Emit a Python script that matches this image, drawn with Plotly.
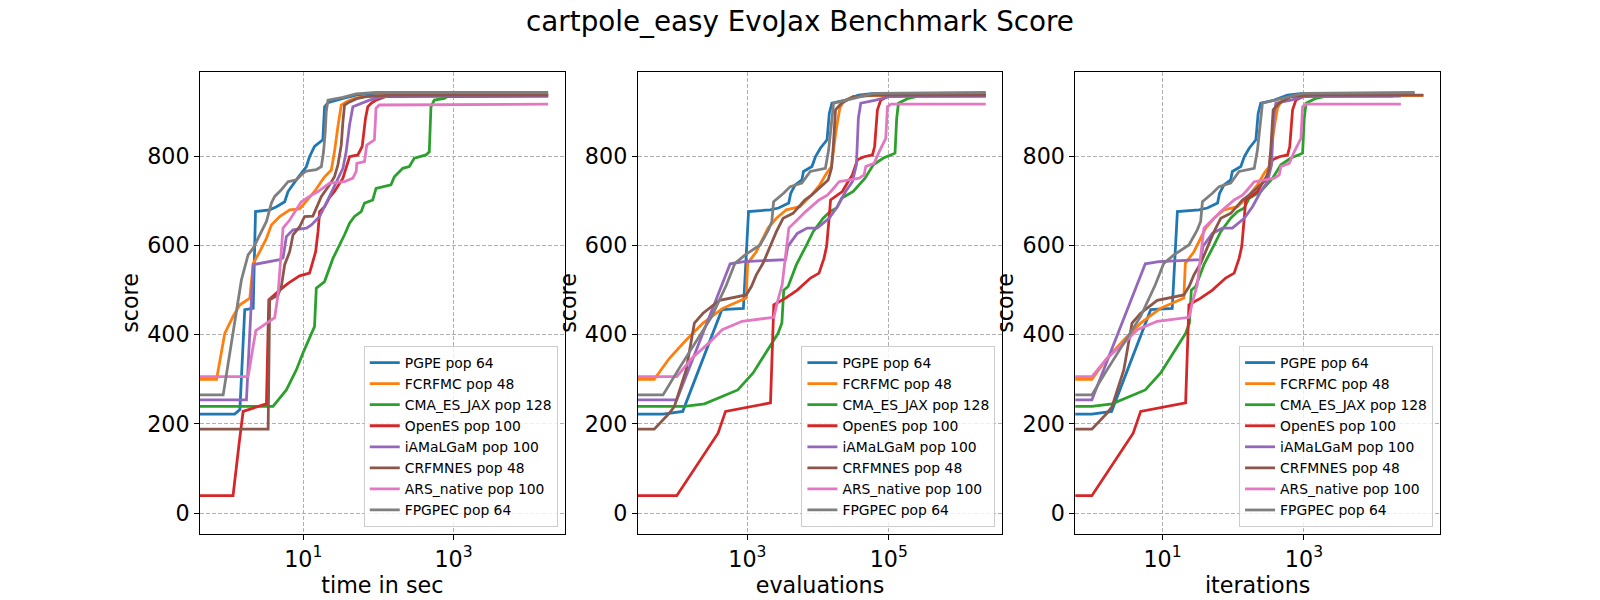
import math
import plotly.graph_objects as go

# ---------------- data ----------------
ALGOS = ["PGPE", "FCRFMC", "CMA_ES_JAX", "OpenES", "iAMaLGaM", "CRFMNES", "ARS_native", "FPGPEC"]
POPS = [64, 48, 128, 100, 100, 48, 100, 64]
COLORS = ["#1f77b4", "#ff7f0e", "#2ca02c", "#d62728", "#9467bd", "#8c564b", "#e377c2", "#7f7f7f"]

# score vs. iterations (evaluations = iterations * population size)
pgpe_iters = [0, 1, 1.9, 6.8, 13.7, 16.2, 32.7, 43, 60, 64, 74, 92, 97, 128, 143, 168, 209, 225, 245, 380, 585, 960, 36700]
pgpe_iter_scores = [222, 222, 228, 456, 459, 676, 680, 684, 695, 717, 736, 747, 766, 777, 799, 818, 837, 896, 919, 926, 937, 941, 941]
fcrfmc_iters = [0, 1, 1.64, 2.83, 4.9, 9.3, 20, 21, 27.8, 34.6, 40.7, 53.5, 74, 115, 143, 168, 220, 274, 322, 340, 367, 392, 423, 472, 655, 1190, 49000]
fcrfmc_iter_scores = [300, 300, 347, 388, 426, 459, 482, 560, 586, 616, 639, 661, 680, 687, 702, 713, 736, 762, 777, 810, 848, 878, 908, 922, 934, 936, 936]
cma_iters = [0, 1, 1.93, 5.7, 9.4, 14.5, 21.2, 24, 25.5, 29.4, 38.5, 53.5, 66.5, 92, 115, 143, 168, 245, 360, 472, 655, 957, 1010, 1070, 1480, 2050, 18400]
cma_iter_scores = [239, 239, 245, 276, 314, 362, 403, 426, 500, 508, 557, 601, 631, 661, 676, 684, 706, 721, 751, 781, 796, 807, 885, 919, 930, 935, 935]
openes_iters = [0, 1, 3.84, 4.9, 21.2, 23.6, 34.6, 50.7, 78, 103, 121, 132, 143, 150, 187, 220, 259, 305, 360, 447, 587, 630, 690, 770, 1070, 23500]
openes_iter_scores = [39, 39, 179, 228, 247, 467, 482, 500, 527, 538, 571, 598, 661, 702, 713, 721, 740, 758, 792, 799, 803, 822, 904, 926, 937, 937]
iamalgam_iters = [0, 1, 5.7, 8.9, 34.6, 37.3, 50.7, 70, 97, 143, 187, 245, 305, 348, 371, 401, 655, 1010, 23500]
iamalgam_iter_scores = [254, 254, 559, 564, 568, 598, 627, 639, 639, 661, 687, 721, 743, 781, 885, 919, 926, 934, 935]
crfmnes_iters = [0, 1, 1.64, 1.93, 2.83, 3.7, 4.9, 8.4, 20, 23.7, 27.8, 34.6, 53.5, 66.5, 92, 135, 168, 245, 289, 322, 340, 367, 447, 655, 1320, 49000]
crfmnes_iter_scores = [188, 188, 224, 239, 321, 426, 448, 477, 489, 508, 534, 560, 631, 661, 672, 702, 713, 736, 747, 773, 818, 904, 919, 934, 937, 937]
ars_iters = [0, 1, 1.64, 2.83, 4.4, 8.4, 23.7, 26.3, 31, 38.5, 48, 66.5, 103, 135, 159, 198, 380, 447, 472, 620, 729, 906, 957, 1070, 23500]
ars_iter_scores = [306, 306, 347, 381, 411, 430, 439, 471, 512, 639, 654, 676, 702, 713, 725, 743, 751, 758, 777, 784, 810, 840, 911, 917, 917]
fpgpec_iters = [0, 1, 1.64, 2.83, 4.9, 7.9, 10.4, 14.5, 23.6, 31, 34.6, 36.6, 50.7, 63, 92, 121, 198, 220, 238, 259, 498, 955, 36700]
fpgpec_iter_scores = [265, 265, 321, 381, 441, 512, 560, 579, 601, 635, 654, 698, 717, 732, 740, 766, 773, 814, 867, 919, 930, 941, 943]

# score vs. wall-clock time in seconds
pgpe_secs = [0, 1.22, 1.43, 1.66, 2.15, 2.31, 3.57, 4.4, 5.65, 6.26, 8.07, 11, 12.1, 14.1, 18.2, 19.2, 21.3, 33.7, 50.6, 93, 18200]
pgpe_sec_scores = [222, 222, 232, 456, 459, 676, 680, 687, 698, 721, 747, 777, 799, 822, 837, 911, 920, 930, 937, 941, 941]
fcrfmc_secs = [0, 0.70, 0.90, 1.16, 1.43, 1.94, 2.15, 2.63, 3.23, 3.76, 4.85, 6.58, 8.93, 9.9, 12.1, 14.1, 16.5, 19.2, 23.6, 26, 28.9, 32, 37.2, 48, 65, 115, 18200]
fcrfmc_sec_scores = [300, 300, 403, 441, 467, 482, 560, 586, 616, 646, 665, 680, 682, 691, 706, 721, 738, 754, 769, 810, 867, 915, 922, 930, 934, 936, 936]
cma_secs = [0, 3.95, 5.95, 8.07, 9.9, 12.8, 14.1, 14.9, 19.2, 24.8, 30.4, 35.4, 41.3, 48, 59, 65.3, 84, 93, 147, 163, 211, 258, 301, 430, 476, 501, 555, 753, 834, 18200]
cma_sec_scores = [239, 239, 276, 321, 359, 403, 418, 504, 519, 571, 601, 624, 650, 665, 676, 695, 702, 728, 736, 754, 773, 777, 796, 803, 810, 911, 926, 930, 934, 935]
openes_secs = [0, 1.16, 1.4, 1.58, 3.23, 3.47, 4.85, 6.26, 8.93, 12.1, 13.4, 14.6, 15.7, 16.5, 19.2, 22.4, 26, 33.7, 41.3, 53.2, 60.8, 67.3, 72.3, 80, 93, 126, 18200]
openes_sec_scores = [39, 39, 157, 228, 245, 478, 500, 515, 532, 538, 564, 586, 631, 676, 687, 708, 721, 751, 799, 803, 822, 885, 911, 919, 926, 934, 937]
iamalgam_secs = [0, 1.75, 2.15, 4.85, 5.37, 5.95, 7.3, 11, 12.8, 16.5, 20.2, 26, 33.7, 37.2, 41.3, 45.7, 59, 76, 103, 140, 18200]
iamalgam_sec_scores = [254, 254, 557, 568, 572, 620, 635, 639, 646, 665, 695, 732, 773, 810, 870, 911, 919, 926, 932, 935, 935]
crfmnes_secs = [0, 3.4, 3.57, 4.6, 5.1, 5.65, 6.58, 7.3, 8.93, 10.4, 13.4, 14.9, 17.4, 22.4, 26, 28.9, 32, 33.7, 35.4, 41.3, 53.2, 68.7, 150, 18200]
crfmnes_sec_scores = [188, 188, 478, 489, 508, 557, 586, 624, 642, 665, 666, 684, 710, 736, 754, 781, 825, 878, 915, 922, 930, 934, 937, 937]
ars_secs = [0, 1.84, 2.33, 4.16, 4.6, 5.37, 6.58, 9.4, 12.1, 15.7, 22.4, 35.4, 45.7, 50.6, 51.6, 65.3, 70, 88.5, 93, 103, 18200]
ars_sec_scores = [306, 306, 409, 438, 489, 639, 657, 698, 710, 721, 740, 743, 751, 766, 784, 788, 825, 837, 908, 915, 917]
fpgpec_secs = [0, 0.857, 1.5, 1.84, 2.15, 3.23, 3.76, 4.16, 5.1, 6.26, 8.07, 9.9, 11, 14.9, 17.4, 18.6, 19.6, 20.2, 21.3, 33.7, 50.6, 93, 18200]
fpgpec_sec_scores = [265, 265, 523, 579, 594, 654, 695, 710, 725, 743, 747, 762, 767, 770, 777, 810, 855, 900, 926, 932, 940, 943, 943]

ITERS = [pgpe_iters, fcrfmc_iters, cma_iters, openes_iters, iamalgam_iters, crfmnes_iters, ars_iters, fpgpec_iters]
ITER_SCORES = [pgpe_iter_scores, fcrfmc_iter_scores, cma_iter_scores, openes_iter_scores,
               iamalgam_iter_scores, crfmnes_iter_scores, ars_iter_scores, fpgpec_iter_scores]
SECS = [pgpe_secs, fcrfmc_secs, cma_secs, openes_secs, iamalgam_secs, crfmnes_secs, ars_secs, fpgpec_secs]
SEC_SCORES = [pgpe_sec_scores, fcrfmc_sec_scores, cma_sec_scores, openes_sec_scores,
              iamalgam_sec_scores, crfmnes_sec_scores, ars_sec_scores, fpgpec_sec_scores]

TITLE = "cartpole_easy EvoJax Benchmark Score"
X_LABELS = ["time in sec", "evaluations", "iterations"]
Y_LABEL = "score"
Y_TICKS = [0, 200, 400, 600, 800]
X_TICKS = [[10, 1000], [1000, 100000], [10, 1000]]
X_TICK_TEXT = [["10<sup>1</sup>", "10<sup>3</sup>"], ["10<sup>3</sup>", "10<sup>5</sup>"], ["10<sup>1</sup>", "10<sup>3</sup>"]]

# ---------------- figure ----------------
FONT = "DejaVu Sans"
PX = 100 / 72.0  # matplotlib points -> pixels at dpi 100
W, H = 1600, 600

panel_x = [SECS, [[v * POPS[i] for v in ITERS[i]] for i in range(8)], ITERS]
panel_y = [SEC_SCORES, ITER_SCORES, ITER_SCORES]

# matplotlib-like log autoscale with 5% margins
ranges = []
for xs_list in panel_x:
    pos = [v for xs in xs_list for v in xs if v > 0]
    lo, hi = math.log10(min(pos)), math.log10(max(pos))
    m = 0.05 * (hi - lo)
    ranges.append([lo - m, hi + m])
Y_RANGE = [-47, 989]

# axes geometry (figure fractions, matplotlib default subplot params)
left, right, bottom, top, wspace = 0.125, 0.9, 0.11, 0.88, 0.2
aw = (right - left) / (3 + 2 * wspace)
domains = [[left + k * aw * (1 + wspace), left + k * aw * (1 + wspace) + aw] for k in range(3)]

fig = go.Figure()
legend_names = ["legend", "legend2", "legend3"]
for p in range(3):
    xref = "x" if p == 0 else f"x{p+1}"
    yref = "y" if p == 0 else f"y{p+1}"
    floor = 10 ** (ranges[p][0] - 1)
    for i in range(8):
        xs = [v if v > 0 else floor for v in panel_x[p][i]]
        fig.add_trace(go.Scatter(
            x=xs, y=panel_y[p][i], mode="lines",
            name=f"{ALGOS[i]} pop {POPS[i]}",
            line=dict(color=COLORS[i], width=2 * PX),
            xaxis=xref, yaxis=yref, legend=legend_names[p],
            hoverinfo="skip",
        ))

layout = dict(
    width=W, height=H,
    margin=dict(l=0, r=0, t=0, b=0),
    paper_bgcolor="white", plot_bgcolor="white",
    font=dict(family=FONT, color="black", size=16 * PX),
    title=dict(text=TITLE, x=0.5, xanchor="center", y=1 - 12 / H, yanchor="top",
               font=dict(family=FONT, size=20 * PX, color="black")),
    showlegend=True,
)
axis_common = dict(
    showline=True, linecolor="black", linewidth=0.8 * PX, mirror=True,
    ticks="outside", ticklen=3.5 * PX, tickwidth=0.8 * PX, tickcolor="black",
    showgrid=True, gridcolor="#b0b0b0", gridwidth=0.8 * PX, griddash="4px,2px",
    zeroline=False, tickfont=dict(family=FONT, size=16 * PX, color="black"),
)
for p in range(3):
    xk = "xaxis" if p == 0 else f"xaxis{p+1}"
    yk = "yaxis" if p == 0 else f"yaxis{p+1}"
    yanchor = "y" if p == 0 else f"y{p+1}"
    xanchor = "x" if p == 0 else f"x{p+1}"
    layout[xk] = dict(axis_common, type="log", domain=domains[p], range=ranges[p], anchor=yanchor,
                      tickvals=X_TICKS[p], ticktext=X_TICK_TEXT[p],
                      title=dict(text=X_LABELS[p], standoff=4, font=dict(family=FONT, size=16 * PX)))
    layout[yk] = dict(axis_common, domain=[bottom, top], range=Y_RANGE, anchor=xanchor,
                      tickvals=Y_TICKS,
                      title=dict(text=Y_LABEL, standoff=2, font=dict(family=FONT, size=16 * PX)))
    pad = 0.5 * 10 * PX / W
    layout[legend_names[p]] = dict(
        x=domains[p][1] - pad, xanchor="right",
        y=bottom + 0.5 * 10 * PX / H, yanchor="bottom",
        bgcolor="rgba(255,255,255,0.8)", bordercolor="#cccccc", borderwidth=1,
        font=dict(family=FONT, size=10 * PX, color="black"),
        traceorder="normal",
    )

fig.update_layout(**layout)
fig.write_html("out.html")
